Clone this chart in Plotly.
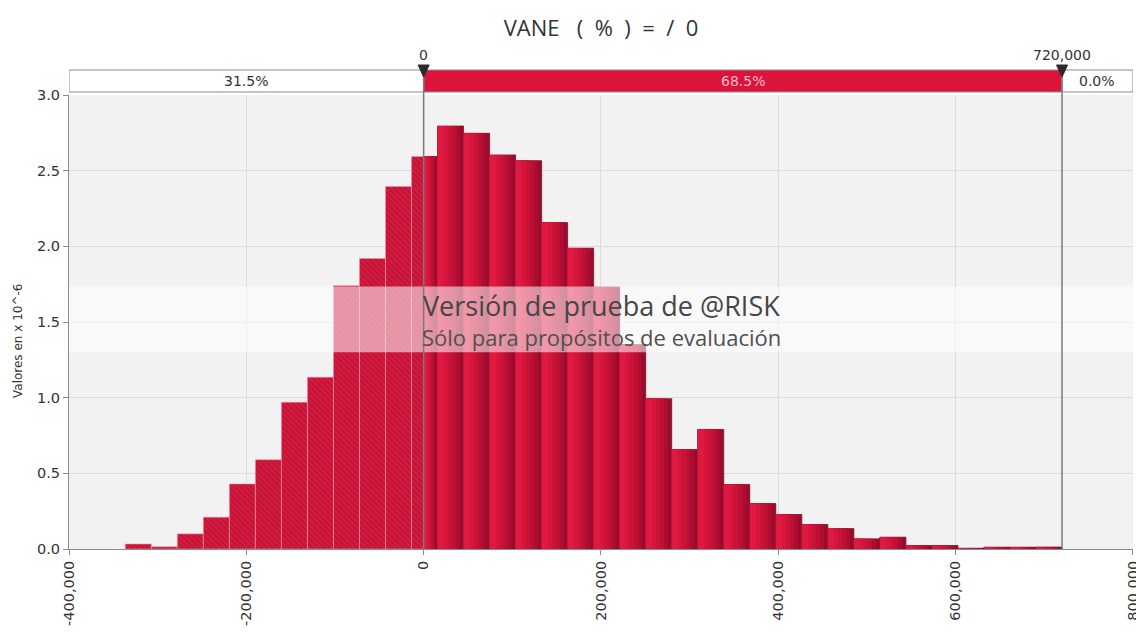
import numpy as np
import plotly.graph_objects as go

# ---- data -------------------------------------------------------------
# probability density per bin (values in units of 10^-6)
density = [0.033, 0.015, 0.10, 0.21, 0.43, 0.59, 0.97, 1.135, 1.74, 1.92,
           2.395, 2.593, 2.795, 2.747, 2.604, 2.566, 2.157, 1.988, 1.73, 1.35,
           0.993, 0.657, 0.79, 0.426, 0.30, 0.228, 0.162, 0.135, 0.067, 0.078,
           0.023, 0.023, 0.005, 0.012, 0.012, 0.013]
hist_min = -336500
hist_max = 720000

# delimiters and the probability of each region
left_delim = 0
right_delim = 720000
region_labels = ["31.5%", "68.5%", "0.0%"]

x_ticks = [-400000, -200000, 0, 200000, 400000, 600000, 800000]
x_range = [-400000, 800000]
y_range = [0, 3.0]
title_text = "VANE   (  %  )  =  /  0"
y_title = "Valores en x 10^-6"
watermark_1 = "Versión de prueba de @RISK"
watermark_2 = "Sólo para propósitos de evaluación"

# ---- geometry helpers -----------------------------------------------------
W, H = 1136, 641
M_L, M_R, M_T, M_B = 69, 3, 95, 92
plot_h = H - M_T - M_B
plot_w = W - M_L - M_R
ux = plot_w / (x_range[1] - x_range[0])      # px per x unit


def py(pix):
    """pixel row -> paper y"""
    return (H - M_B - pix) / plot_h


def px(pix):
    """pixel column -> paper x"""
    return (pix - M_L) / plot_w


edges = np.linspace(hist_min, hist_max, len(density) + 1)

# split bins at the left delimiter: hatched below it, solid above it
neg_x, neg_w, neg_y = [], [], []
pos_x, pos_w, pos_y = [], [], []
for lo, hi, d in zip(edges[:-1], edges[1:], density):
    if lo < left_delim:
        a, b = lo, min(hi, left_delim)
        neg_x.append(a); neg_w.append(b - a); neg_y.append(d)
    if hi > left_delim:
        a, b = max(lo, left_delim), hi
        pos_x.append(a); pos_w.append(b - a); pos_y.append(d)

fig = go.Figure()

# hatched part
fig.add_trace(go.Bar(
    x=neg_x, y=neg_y, width=neg_w, offset=0,
    marker=dict(color="#d6193f",
                line=dict(color="rgba(235,150,170,0.8)", width=0.7),
                pattern=dict(shape="\\", fgcolor="#8e0d29", bgcolor="#d6193f",
                             size=4, solidity=0.3)),
    hoverinfo="skip", showlegend=False))

# solid part, shaded from bright (left) to dark (right)
shades = ["#9c0b2c", "#ad0d31", "#bd1035", "#cb1239", "#d6153d", "#de1a42"]
fracs = [1.0, 0.85, 0.7, 0.55, 0.4, 0.25]
for k, (c, f) in enumerate(zip(shades, fracs)):
    fig.add_trace(go.Bar(
        x=pos_x, y=pos_y, width=[w * f for w in pos_w], offset=0,
        marker=dict(color=c,
                    line=dict(color="rgba(110,8,28,0.9)" if k == 0 else c,
                              width=0.8 if k == 0 else 0)),
        hoverinfo="skip", showlegend=False))

shapes = []
band_top, band_bot = py(70), py(92)
# delimiter band above the plot
for x0, x1, fill in [(x_range[0], left_delim, "white"),
                     (left_delim, right_delim, "#dc143c"),
                     (right_delim, x_range[1], "white")]:
    shapes.append(dict(type="rect", xref="x", yref="paper", x0=x0, x1=x1,
                       y0=band_bot, y1=band_top, fillcolor=fill,
                       line=dict(color="#8c8c8c", width=1), layer="above"))

# watermark band
shapes.append(dict(type="rect", xref="paper", yref="y", x0=0, x1=1,
                   y0=1.30, y1=1.735, fillcolor="rgba(255,255,255,0.55)",
                   line=dict(width=0), layer="above"))

# delimiter lines and markers
tri_half = 5.5 / ux
for xd in (left_delim, right_delim):
    shapes.append(dict(type="line", xref="x", yref="paper", x0=xd, x1=xd,
                       y0=0, y1=band_top, line=dict(color="#7a7a7a", width=1.5),
                       layer="above"))
    shapes.append(dict(type="path", xref="x", yref="paper",
                       path=f"M {xd - tri_half},{py(65)} L {xd + tri_half},{py(65)} "
                            f"L {xd},{py(77)} Z",
                       fillcolor="#2b2b2b", line=dict(color="#2b2b2b", width=1),
                       layer="above"))

annotations = []
centers = [(x_range[0] + left_delim) / 2, (left_delim + right_delim) / 2,
           (right_delim + x_range[1]) / 2]
colors = ["#333333", "#f6bccb", "#333333"]
for cx, txt, col in zip(centers, region_labels, colors):
    annotations.append(dict(x=cx, y=(band_top + band_bot) / 2, xref="x", yref="paper",
                            text=txt, showarrow=False, yanchor="middle",
                            font=dict(family="DejaVu Sans", size=14, color=col)))
for xd in (left_delim, right_delim):
    annotations.append(dict(x=xd, y=py(55), xref="x", yref="paper",
                            text=f"{xd:,}", showarrow=False, yanchor="middle",
                            font=dict(family="DejaVu Sans", size=14, color="#333333")))

annotations.append(dict(x=0.5, y=1.612, xref="paper", yref="y", text=watermark_1,
                        showarrow=False, yanchor="middle",
                        font=dict(family="Open Sans", size=27, color="#454545")))
annotations.append(dict(x=0.5, y=1.40, xref="paper", yref="y", text=watermark_2,
                        showarrow=False, yanchor="middle",
                        font=dict(family="Open Sans", size=22, color="#505050")))

# vertical axis caption
annotations.append(dict(x=px(18), y=py(341), xref="paper", yref="paper",
                        text=y_title, textangle=-90, showarrow=False,
                        xanchor="center", yanchor="middle",
                        font=dict(family="DejaVu Sans", size=12, color="#333333")))

axis_common = dict(showgrid=True, gridcolor="#dcdcdc", gridwidth=1,
                   showline=True, linecolor="#8c8c8c", linewidth=1,
                   ticks="outside", ticklen=5, tickcolor="#8c8c8c",
                   zeroline=False, automargin=False,
                   tickfont=dict(family="DejaVu Sans", size=14.5, color="#333333"))

fig.update_layout(
    width=W, height=H,
    margin=dict(l=M_L, r=M_R, t=M_T, b=M_B, autoexpand=False),
    paper_bgcolor="white", plot_bgcolor="#f2f2f2",
    barmode="overlay",
    title=dict(text=title_text, x=0.5, xref="paper", y=1 - 28 / H, yanchor="middle",
               font=dict(family="Open Sans", size=22, color="#333333")),
    xaxis=dict(range=[x_range[0], x_range[1] + 50], tickmode="array",
               tickvals=x_ticks, ticktext=[f"{v:,}" for v in x_ticks],
               tickangle=-90, ticklabeloverflow="allow", **axis_common),
    yaxis=dict(range=y_range, dtick=0.5, tickformat=".1f", **axis_common),
    shapes=shapes, annotations=annotations,
)

fig.write_html("out.html")
